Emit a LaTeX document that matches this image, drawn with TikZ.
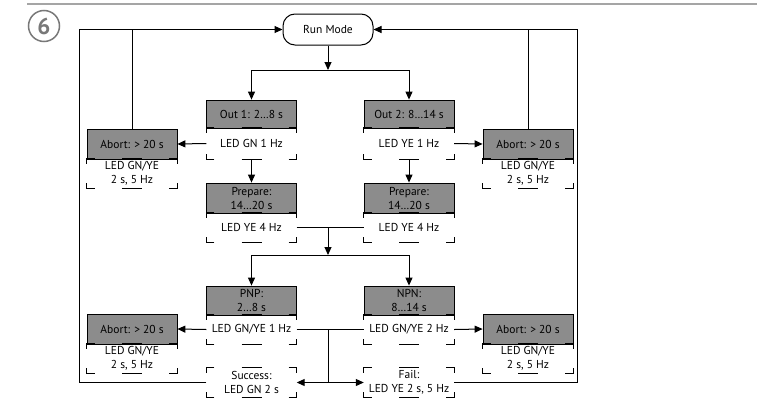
\documentclass[tikz,border=0pt]{standalone}
\usepackage{fontspec}
\setmainfont{PT Sans}
\usetikzlibrary{arrows.meta,calc}
\definecolor{boxgray}{RGB}{140,140,140}
\definecolor{rulegray}{RGB}{165,165,165}
\definecolor{numgray}{RGB}{120,120,120}
\newcommand\fs{\fontsize{11.5}{14}\selectfont}
\newcommand\brk[1]{%
  \draw[brkline] ([xshift=8pt]#1.north west) -- (#1.north west) -- ([yshift=-5pt]#1.north west);
  \draw[brkline] ([xshift=-8pt]#1.north east) -- (#1.north east) -- ([yshift=-5pt]#1.north east);
  \draw[brkline] ([xshift=8pt]#1.south west) -- (#1.south west) -- ([yshift=5pt]#1.south west);
  \draw[brkline] ([xshift=-8pt]#1.south east) -- (#1.south east) -- ([yshift=5pt]#1.south east);
  \draw[brkline] ([xshift=-10pt]#1.north) -- ([xshift=10pt]#1.north);
  \draw[brkline] ([xshift=-10pt]#1.south) -- ([xshift=10pt]#1.south);
}
\tikzset{
  gbox/.style={draw, line width=0.8pt, fill=boxgray, minimum width=90pt, minimum height=29pt, inner sep=0pt, align=center, font=\fs},
  wbox/.style={minimum width=90pt, minimum height=29pt, inner sep=0pt, align=center, font=\fs},
  brkline/.style={line width=1.1pt},
  conn/.style={line width=1pt},
  arr/.style={conn, -{Triangle[length=8pt,width=7pt]}},
}
\begin{document}
\begin{tikzpicture}[x=1pt,y=-1pt]
\useasboundingbox (0,0) rectangle (757,399);
% header
\draw[rulegray, line width=2pt] (27,4) -- (757,4);
\node[circle, draw=numgray, line width=1.5pt, minimum size=31pt, inner sep=0pt, text=numgray, font=\fontsize{23}{23}\selectfont\bfseries] (num) at (44,26) {6};

% run mode
\node[draw, line width=1pt, rounded corners=12pt, minimum width=90pt, minimum height=31pt, inner sep=0pt, font=\fs] (run) at (328,29.5) {Run Mode};

% upper row
\node[gbox, minimum height=28pt] (out1) at (251.5,114) {Out 1: 2…8 s};
\node[wbox, minimum height=31pt] (led1) at (251.5,143.5) {LED GN 1 Hz};
\node[gbox, minimum height=28pt] (out2) at (409,114) {Out 2: 8…14 s};
\node[wbox, minimum height=31pt] (led2) at (409,143.5) {LED YE 1 Hz};

\node[gbox, minimum height=30pt] (abl1) at (132,144) {Abort: > 20 s};
\node[wbox] (abl1l) at (132,173.5) {LED GN/YE\\2 s, 5 Hz};
\node[gbox, minimum height=30pt] (abr1) at (528,144) {Abort: > 20 s};
\node[wbox] (abr1l) at (528,173.5) {LED GN/YE\\2 s, 5 Hz};

% prepare
\node[gbox, minimum height=30pt] (prl) at (251.5,198) {Prepare:\\14…20 s};
\node[wbox] (prll) at (251.5,227.5) {LED YE 4 Hz};
\node[gbox, minimum height=30pt] (prr) at (409,198) {Prepare:\\14…20 s};
\node[wbox] (prrl) at (409,227.5) {LED YE 4 Hz};

% pnp / npn
\node[gbox] (pnp) at (251.5,300.5) {PNP:\\2…8 s};
\node[wbox] (pnpl) at (251.5,329.5) {LED GN/YE 1 Hz};
\node[gbox] (npn) at (409,300.5) {NPN:\\8…14 s};
\node[wbox] (npnl) at (409,329.5) {LED GN/YE 2 Hz};

\node[gbox, minimum height=30pt] (abl2) at (132,329) {Abort: > 20 s};
\node[wbox] (abl2l) at (132,358.5) {LED GN/YE\\2 s, 5 Hz};
\node[gbox, minimum height=30pt] (abr2) at (528,329) {Abort: > 20 s};
\node[wbox] (abr2l) at (528,358.5) {LED GN/YE\\2 s, 5 Hz};

% success / fail
\node[wbox] (succ) at (251.5,382.5) {Success:\\LED GN 2 s};
\node[wbox] (fail) at (409,382.5) {Fail:\\LED YE 2 s, 5 Hz};

% brackets
\brk{led1}\brk{led2}\brk{abl1l}\brk{abr1l}\brk{prll}\brk{prrl}
\brk{pnpl}\brk{npnl}\brk{abl2l}\brk{abr2l}\brk{succ}\brk{fail}

% junction coordinates
\coordinate (j1) at (328,70);
\coordinate (j2) at (328,227.5);
\coordinate (j3) at (328,255);
\coordinate (j4) at (328,329.5);
\coordinate (j5) at (328,382.5);
\coordinate (lo) at (79,382.5);
\coordinate (ro) at (577,382.5);

% connectors
\draw[arr] (run.south) -- (j1);
\draw[arr] (j1) -| (out1.north);
\draw[arr] (j1) -| (out2.north);
\draw[arr] (led1.west) -- (abl1.east);
\draw[arr] (led2.east) -- (abr1.west);
\draw[arr] (led1.south) -- (prl.north);
\draw[arr] (led2.south) -- (prr.north);
\draw[conn] (prll.east) -- (prrl.west);
\draw[arr] (j2) -- (j3);
\draw[arr] (j3) -| (pnp.north);
\draw[arr] (j3) -| (npn.north);
\draw[arr] (pnpl.west) -- (abl2.east);
\draw[arr] (npnl.east) -- (abr2.west);
\draw[conn] (pnpl.east) -- (npnl.west);
\draw[conn] (j4) -- (j5);
\draw[arr] (j5) -- (succ.east);
\draw[arr] (j5) -- (fail.west);
\draw[arr] (succ.west) -- (lo) |- (run.west);
\draw[arr] (fail.east) -- (ro) |- (run.east);
\draw[conn] (abl1.north) -- (abl1.north |- run.west);
\draw[conn] (abr1.north) -- (abr1.north |- run.east);
\end{tikzpicture}
\end{document}
